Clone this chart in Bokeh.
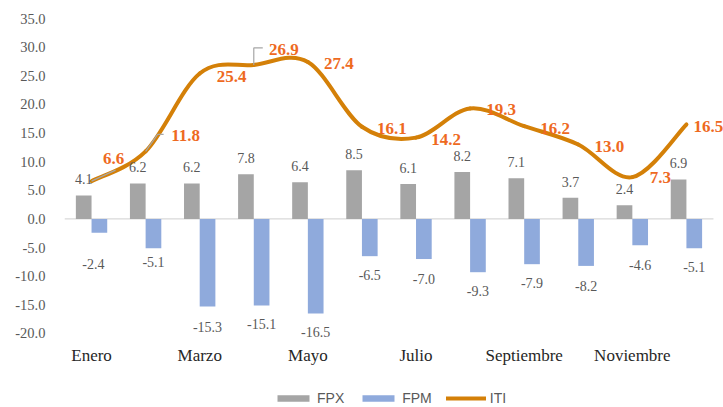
from bokeh.plotting import figure
from bokeh.models import (Range1d, FixedTicker, PrintfTickFormatter, Legend,
                          LegendItem, ColumnDataSource)
from bokeh.core.properties import value
from bokeh.embed import file_html
from bokeh.resources import INLINE

# ---------------- data ----------------
months = ["Enero", "Febrero", "Marzo", "Abril", "Mayo", "Junio", "Julio",
          "Agosto", "Septiembre", "Octubre", "Noviembre", "Diciembre"]
fpx = [4.1, 6.2, 6.2, 7.8, 6.4, 8.5, 6.1, 8.2, 7.1, 3.7, 2.4, 6.9]
fpm = [-2.4, -5.1, -15.3, -15.1, -16.5, -6.5, -7.0, -9.3, -7.9, -8.2, -4.6, -5.1]
iti = [6.6, 11.8, 25.4, 26.9, 27.4, 16.1, 14.2, 19.3, 16.2, 13.0, 7.3, 16.5]
y_ticks = [-20, -15, -10, -5, 0, 5, 10, 15, 20, 25, 30, 35]
x_tick_idx = [0, 2, 4, 6, 8, 10]

# ---------------- style (label placement in screen px) ----------------
iti_dx = [22, 40, 32, 30, 31, 30, 30, 31, 31, 31, 28, 22]
iti_dy = [-23, -16, 3, -15, 1, 2, 2, 1, 2, 2, 0, 2]
fpm_dx = [-6, 0, 0, 0, 0, 0, 0, 0, 0, 0, 0, 0]
fpm_dy = [31, 14, 20, 19, 19, 19, 20, 19, 19, 20, 20, 19]
leaders = {0: [(0, 0), (24, -11)],
           1: [(0, 0), (12, -17), (18, -17)],
           3: [(0, 0), (0, -17), (9, -17)]}

W, H = 723, 407
ML = 64
PX_CAT = 54.08      # px per category
PX_UNIT = 5.727     # px per y unit
TOP_PX = 18         # where y=35 sits
YMAX = max(y_ticks) + TOP_PX / PX_UNIT
YMIN = max(y_ticks) - (H - TOP_PX) / PX_UNIT
XMIN = -0.5
XMAX = XMIN + (W - ML) / PX_CAT
px_x = 1 / PX_CAT
px_y = 1 / PX_UNIT

GRAY_TXT = "#595959"
SERIF = "Liberation Serif"

p = figure(width=W, height=H, output_backend="svg", toolbar_location=None,
           x_range=Range1d(XMIN, XMAX), y_range=Range1d(YMIN, YMAX),
           min_border_left=ML, min_border_right=0, min_border_top=0,
           min_border_bottom=0)
p.outline_line_color = None
p.xgrid.visible = False
p.ygrid.visible = False
p.xaxis.visible = False
p.background_fill_color = "white"

x = list(range(len(months)))
bw = 0.29
src = ColumnDataSource(dict(
    x=x, xa=[i - bw / 2 for i in x], xb=[i + bw / 2 for i in x],
    fpx=fpx, fpm=fpm, iti=iti,
    fpx_lab=[f"{v:.1f}" for v in fpx], fpm_lab=[f"{v:.1f}" for v in fpm],
    iti_lab=[f"{v:.1f}" for v in iti],
    iti_dx=iti_dx, iti_dy=iti_dy, fpm_dx=fpm_dx, fpm_dy=fpm_dy,
))

# zero (category) axis line across the category span
p.segment(x0=[-0.5], y0=[0], x1=[len(months) - 0.5], y1=[0],
          line_color="#D9D9D9", line_width=1.3)

r_fpx = p.vbar(x="xa", top="fpx", bottom=0, width=bw, source=src,
               fill_color="#A5A5A5", line_color=None)
r_fpm = p.vbar(x="xb", top="fpm", bottom=0, width=bw, source=src,
               fill_color="#8FAADC", line_color=None)

# smooth ITI line (Catmull-Rom bezier segments through the data points)
n = len(iti)
x0, y0, x1, y1, cx0, cy0, cx1, cy1 = [], [], [], [], [], [], [], []
for i in range(n - 1):
    pm = max(i - 1, 0)
    pp = min(i + 2, n - 1)
    x0.append(x[i]); y0.append(iti[i])
    x1.append(x[i + 1]); y1.append(iti[i + 1])
    cx0.append(x[i] + (x[i + 1] - x[pm]) / 6)
    cy0.append(iti[i] + (iti[i + 1] - iti[pm]) / 6)
    cx1.append(x[i + 1] - (x[pp] - x[i]) / 6)
    cy1.append(iti[i + 1] - (iti[pp] - iti[i]) / 6)
r_iti = p.bezier(x0=x0, y0=y0, x1=x1, y1=y1, cx0=cx0, cy0=cy0, cx1=cx1, cy1=cy1,
                 line_color="#D48008", line_width=4, line_cap="round")

# leader lines
lx, ly = [], []
for i, pts in leaders.items():
    lx.append([x[i] + dx * px_x for dx, dy in pts])
    ly.append([iti[i] - dy * px_y for dx, dy in pts])
p.multi_line(xs=lx, ys=ly, line_color="#A6A6A6", line_width=1.2)

# data labels
p.text(x="xa", y="fpx", text="fpx_lab", source=src, y_offset=-16,
       text_align="center", text_baseline="middle", text_color=GRAY_TXT,
       text_font=value(SERIF), text_font_size="14px")
p.text(x="xb", y="fpm", text="fpm_lab", source=src, x_offset="fpm_dx", y_offset="fpm_dy",
       text_align="center", text_baseline="middle", text_color=GRAY_TXT,
       text_font=value(SERIF), text_font_size="14px")
p.text(x="x", y="iti", text="iti_lab", source=src, x_offset="iti_dx", y_offset="iti_dy",
       text_align="center", text_baseline="middle", text_color="#EE6A1F",
       text_font=value(SERIF), text_font_size="17px", text_font_style="bold")

# category labels (every other month, below the lowest tick)
p.text(x=x_tick_idx, y=[min(y_ticks)] * len(x_tick_idx),
       text=[months[i] for i in x_tick_idx], y_offset=22,
       text_align="center", text_baseline="middle", text_color="#262626",
       text_font=value(SERIF), text_font_size="17px")

# y axis
p.yaxis.ticker = FixedTicker(ticks=y_ticks)
p.yaxis.formatter = PrintfTickFormatter(format="%.1f")
p.yaxis.axis_line_color = None
p.yaxis.major_tick_line_color = None
p.yaxis.minor_tick_line_color = None
p.yaxis.major_tick_out = 0
p.yaxis.major_label_standoff = 19
p.yaxis.major_label_text_font = SERIF
p.yaxis.major_label_text_font_size = "14.5px"
p.yaxis.major_label_text_color = GRAY_TXT

legend = Legend(items=[LegendItem(label="FPX", renderers=[r_fpx]),
                       LegendItem(label="FPM", renderers=[r_fpm]),
                       LegendItem(label="ITI", renderers=[r_iti])],
                orientation="horizontal", location=(209, 1),
                margin=0, padding=0, spacing=14, label_standoff=4,
                glyph_width=40, glyph_height=8,
                label_text_font="Liberation Sans", label_text_font_size="14px",
                label_text_color=GRAY_TXT, background_fill_alpha=0,
                border_line_color=None)
p.add_layout(legend, "center")

open("out.html", "w").write(file_html(p, INLINE))
